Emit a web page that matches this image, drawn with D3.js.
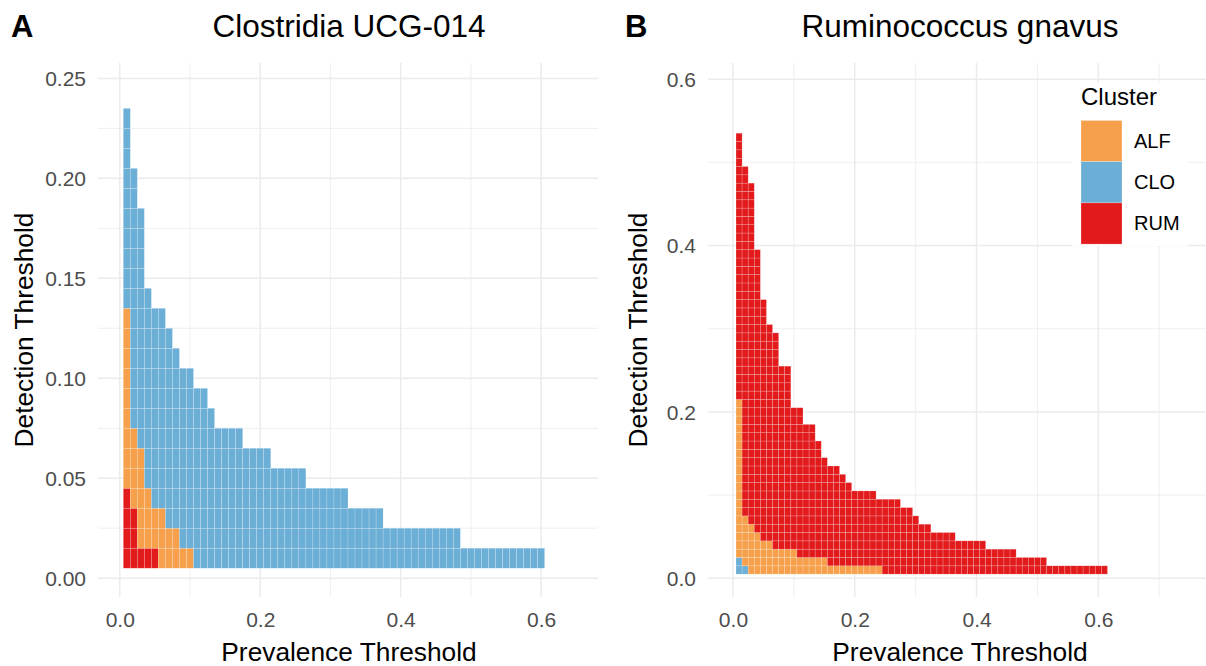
<!DOCTYPE html>
<html>
<head>
<meta charset="utf-8">
<script src="https://cdn.jsdelivr.net/npm/d3@7"></script>
<style>
  html, body { margin: 0; padding: 0; background: #fff; }
  svg { display: block; font-family: "Liberation Sans", Arial, Helvetica, sans-serif; }
</style>
</head>
<body>
<svg id="chart" width="1206" height="666"></svg>
<script>
// ---------------- DATA ----------------
const clusters = ["ALF", "CLO", "RUM"];
const clusterColors = ["#F7A04B", "#6BAED6", "#E31A1C"];

// Panel A: Clostridia UCG-014 — prevalence thresholds (columns)
const prevalenceA = [0.01,0.02,0.03,0.04,0.05,0.06,0.07,0.08,0.09,0.10,
  0.11,0.12,0.13,0.14,0.15,0.16,0.17,0.18,0.19,0.20,
  0.21,0.22,0.23,0.24,0.25,0.26,0.27,0.28,0.29,0.30,
  0.31,0.32,0.33,0.34,0.35,0.36,0.37,0.38,0.39,0.40,
  0.41,0.42,0.43,0.44,0.45,0.46,0.47,0.48,0.49,0.50,
  0.51,0.52,0.53,0.54,0.55,0.56,0.57,0.58,0.59,0.60];
// highest detection threshold (x0.01) at which the taxon is core, per cluster
const maxDetA_CLO = [23,20,18,14,13,13,12,11,10,10, 9,9,8,7,7,7,7,6,6,6,
  6,5,5,5,5,5,4,4,4,4, 4,4,3,3,3,3,3,2,2,2, 2,2,2,2,2,2,2,2,1,1, 1,1,1,1,1,1,1,1,1,1];
const maxDetA_ALF = [13,7,6,4,3,3,2,2,1,1, 0,0,0,0,0,0,0,0,0,0,
  0,0,0,0,0,0,0,0,0,0, 0,0,0,0,0,0,0,0,0,0, 0,0,0,0,0,0,0,0,0,0, 0,0,0,0,0,0,0,0,0,0];
const maxDetA_RUM = [4,3,1,1,1,0,0,0,0,0, 0,0,0,0,0,0,0,0,0,0,
  0,0,0,0,0,0,0,0,0,0, 0,0,0,0,0,0,0,0,0,0, 0,0,0,0,0,0,0,0,0,0, 0,0,0,0,0,0,0,0,0,0];

// Panel B: Ruminococcus gnavus
const prevalenceB = [0.01,0.02,0.03,0.04,0.05,0.06,0.07,0.08,0.09,0.10,
  0.11,0.12,0.13,0.14,0.15,0.16,0.17,0.18,0.19,0.20,
  0.21,0.22,0.23,0.24,0.25,0.26,0.27,0.28,0.29,0.30,
  0.31,0.32,0.33,0.34,0.35,0.36,0.37,0.38,0.39,0.40,
  0.41,0.42,0.43,0.44,0.45,0.46,0.47,0.48,0.49,0.50,
  0.51,0.52,0.53,0.54,0.55,0.56,0.57,0.58,0.59,0.60,0.61];
const maxDetB_RUM = [53,49,47,39,33,30,29,25,25,20, 20,18,18,16,14,13,13,12,11,10,
  10,10,10,9,9,9,9,8,8,7, 6,6,5,5,5,5,4,4,4,4, 4,3,3,3,3,3,2,2,2,2, 2,1,1,1,1,1,1,1,1,1,1];
const maxDetB_ALF = [21,7,6,5,4,4,3,3,3,3, 2,2,2,2,2,1,1,1,1,1,
  1,1,1,1,0,0,0,0,0,0, 0,0,0,0,0,0,0,0,0,0, 0,0,0,0,0,0,0,0,0,0, 0,0,0,0,0,0,0,0,0,0,0];
const maxDetB_CLO = [2,1,0,0,0,0,0,0,0,0, 0,0,0,0,0,0,0,0,0,0,
  0,0,0,0,0,0,0,0,0,0, 0,0,0,0,0,0,0,0,0,0, 0,0,0,0,0,0,0,0,0,0, 0,0,0,0,0,0,0,0,0,0,0];

const xTicks = [0, 0.2, 0.4, 0.6];
const xMinorTicks = [0.1, 0.3, 0.5, 0.7];
const yTicksA = [0, 0.05, 0.10, 0.15, 0.20, 0.25];
const yMinorA = [0.025, 0.075, 0.125, 0.175, 0.225];
const yTicksB = [0, 0.2, 0.4, 0.6];
const yMinorB = [0.1, 0.3, 0.5];
const detStep = 0.01, prevStep = 0.01;

// ---------------- LAYOUT ----------------
const svg = d3.select("#chart");
const color = d3.scaleOrdinal().domain(clusters).range(clusterColors);

function buildCells(prev, series) {
  // each cell gets the cluster with the smallest core region covering it
  const cells = [];
  prev.forEach((p, i) => {
    const maxAll = d3.max(Object.values(series), s => s[i]);
    for (let r = 1; r <= maxAll; r++) {
      let best = null, bestVal = Infinity;
      for (const [name, s] of Object.entries(series)) {
        if (s[i] >= r && s[i] < bestVal) { best = name; bestVal = s[i]; }
      }
      cells.push({prev: p, det: r * detStep, cluster: best});
    }
  });
  return cells;
}

function panel(cfg) {
  const g = svg.append("g");
  const x = d3.scaleLinear().domain(cfg.xDom).range([cfg.left, cfg.right]);
  const y = d3.scaleLinear().domain(cfg.yDom).range([cfg.bottom, cfg.top]);

  const xMinor = xMinorTicks.filter(v => v >= cfg.xDom[0] && v <= cfg.xDom[1]);
  const yMinor = cfg.yMinor.filter(v => v >= cfg.yDom[0] && v <= cfg.yDom[1]);
  const grid = g.append("g");
  grid.selectAll(".vmin").data(xMinor).join("line")
    .attr("x1", d => x(d)).attr("x2", d => x(d)).attr("y1", cfg.top).attr("y2", cfg.bottom)
    .attr("stroke", "#EBEBEB").attr("stroke-width", 0.8);
  grid.selectAll(".hmin").data(yMinor).join("line")
    .attr("y1", d => y(d)).attr("y2", d => y(d)).attr("x1", cfg.left).attr("x2", cfg.right)
    .attr("stroke", "#EBEBEB").attr("stroke-width", 0.8);
  grid.selectAll(".vmaj").data(xTicks).join("line")
    .attr("x1", d => x(d)).attr("x2", d => x(d)).attr("y1", cfg.top).attr("y2", cfg.bottom)
    .attr("stroke", "#EBEBEB").attr("stroke-width", 1.5);
  grid.selectAll(".hmaj").data(cfg.yTicks).join("line")
    .attr("y1", d => y(d)).attr("y2", d => y(d)).attr("x1", cfg.left).attr("x2", cfg.right)
    .attr("stroke", "#EBEBEB").attr("stroke-width", 1.5);

  // tiles
  g.append("g").selectAll("rect").data(cfg.cells).join("rect")
    .attr("x", d => x(d.prev - prevStep / 2))
    .attr("y", d => y(d.det + detStep / 2))
    .attr("width", d => x(d.prev + prevStep / 2) - x(d.prev - prevStep / 2))
    .attr("height", d => y(d.det - detStep / 2) - y(d.det + detStep / 2))
    .attr("fill", d => color(d.cluster))
    .attr("stroke", "#ffffff").attr("stroke-opacity", 0.3).attr("stroke-width", 0.6);

  // axes (text only, ggplot minimal)
  const xAxis = d3.axisBottom(x).tickValues(xTicks).tickFormat(d3.format(".1f")).tickSize(0).tickPadding(0);
  const gx = g.append("g").attr("transform", `translate(0,${cfg.bottom})`).call(xAxis);
  gx.select(".domain").remove();
  gx.selectAll("text").attr("fill", "#4D4D4D").attr("font-size", 21).attr("dy", null).attr("y", 30)
    .attr("font-family", "Liberation Sans, Arial, sans-serif");

  const yAxis = d3.axisLeft(y).tickValues(cfg.yTicks).tickFormat(d3.format(cfg.yFmt)).tickSize(0).tickPadding(0);
  const gy = g.append("g").attr("transform", `translate(${cfg.left},0)`).call(yAxis);
  gy.select(".domain").remove();
  gy.selectAll("text").attr("fill", "#4D4D4D").attr("font-size", 21).attr("x", cfg.yLabelX - cfg.left)
    .attr("dy", "0.35em").attr("font-family", "Liberation Sans, Arial, sans-serif");

  // titles
  g.append("text").attr("x", cfg.titleX).attr("y", 37).attr("text-anchor", "middle")
    .attr("font-size", 31.5).attr("fill", "#000").text(cfg.title);
  g.append("text").attr("x", cfg.tagX).attr("y", 37).attr("font-size", 31).attr("font-weight", "bold")
    .attr("fill", "#000").text(cfg.tag);
  g.append("text").attr("x", cfg.titleX).attr("y", 661).attr("text-anchor", "middle")
    .attr("font-size", 26.3).attr("fill", "#000").text("Prevalence Threshold");
  g.append("text").attr("transform", `translate(${cfg.yTitleX},${(cfg.top + cfg.bottom) / 2}) rotate(-90)`)
    .attr("text-anchor", "middle").attr("font-size", 26.3).attr("fill", "#000").text("Detection Threshold");
  return g;
}

panel({
  tag: "A", tagX: 11, title: "Clostridia UCG-014", titleX: 349,
  left: 98, right: 598, top: 63, bottom: 597,
  xDom: [-0.031, 0.681], yDom: [-0.0094, 0.2577],
  yTicks: yTicksA, yMinor: yMinorA, yFmt: ".2f",
  yLabelX: 86, yTitleX: 33,
  cells: buildCells(prevalenceA, {CLO: maxDetA_CLO, ALF: maxDetA_ALF, RUM: maxDetA_RUM})
});

panel({
  tag: "B", tagX: 625, title: "Ruminococcus gnavus", titleX: 960,
  left: 708, right: 1206, top: 63, bottom: 597,
  xDom: [-0.041, 0.7768], yDom: [-0.0225, 0.6194],
  yTicks: yTicksB, yMinor: yMinorB, yFmt: ".1f",
  yLabelX: 696, yTitleX: 647,
  cells: buildCells(prevalenceB, {RUM: maxDetB_RUM, ALF: maxDetB_ALF, CLO: maxDetB_CLO})
});

// legend
const leg = svg.append("g");
leg.append("rect").attr("x", 1072).attr("y", 83).attr("width", 116).attr("height", 163).attr("fill", "#fff");
leg.append("text").attr("x", 1081).attr("y", 105).attr("font-size", 24).attr("fill", "#000").text("Cluster");
const items = leg.selectAll(".item").data(clusters).join("g")
  .attr("transform", (d, i) => `translate(1081,${120.5 + i * 41.2})`);
items.append("rect").attr("width", 41).attr("height", 41.2).attr("fill", d => color(d))
  .attr("stroke", "#ffffff").attr("stroke-opacity", 0.4).attr("stroke-width", 0.6);
items.append("text").attr("x", 53).attr("y", 20.6).attr("dy", "0.35em").attr("font-size", 20)
  .attr("fill", "#000").text(d => d);
</script>
</body>
</html>
